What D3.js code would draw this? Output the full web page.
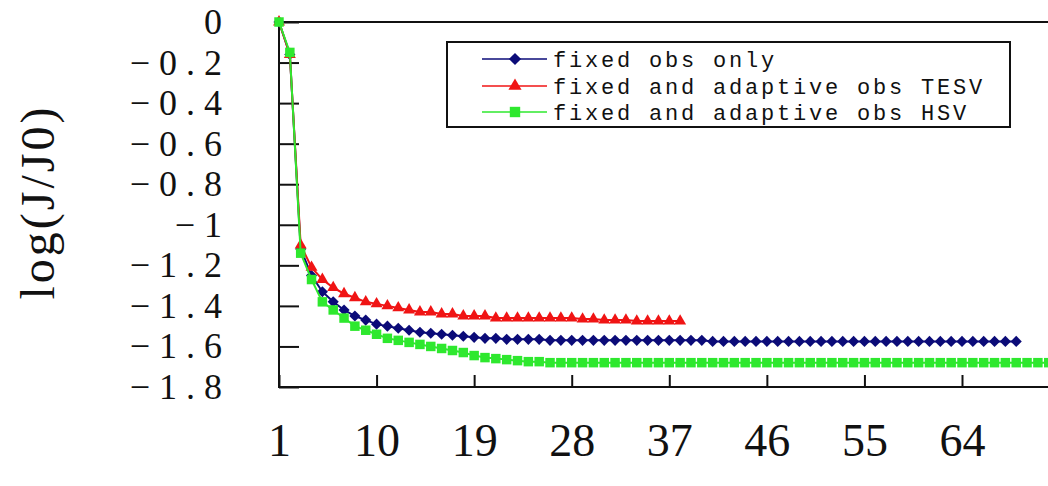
<!DOCTYPE html>
<html>
<head>
<meta charset="utf-8">
<script src="https://cdn.jsdelivr.net/npm/d3@7"></script>
<style>
  body { margin: 0; background: #fff; }
  svg { display: block; }
</style>
</head>
<body>
<div id="chart"></div>
<script>
// x tick labels and y tick values
var xTicks = [1, 10, 19, 28, 37, 46, 55, 64]
var yTicks = [0, -0.2, -0.4, -0.6, -0.8, -1, -1.2, -1.4, -1.6, -1.8]

var seriesNames = ["fixed obs only", "fixed and adaptive obs TESV", "fixed and adaptive obs HSV"]

// log(J/J0) per iteration
var fixedOnly = [0, -0.16, -1.12, -1.25, -1.33, -1.38, -1.42, -1.45, -1.47, -1.49,
  -1.50, -1.51, -1.52, -1.53, -1.535, -1.54, -1.545, -1.55, -1.555, -1.56,
  -1.56, -1.565, -1.565, -1.565, -1.565, -1.57, -1.57, -1.57, -1.57, -1.57,
  -1.57, -1.57, -1.57, -1.57, -1.57, -1.57, -1.57, -1.57, -1.57, -1.57,
  -1.575, -1.575, -1.575, -1.575, -1.575, -1.575, -1.575, -1.575, -1.575, -1.575,
  -1.575, -1.575, -1.575, -1.575, -1.575, -1.575, -1.575, -1.575, -1.575, -1.575,
  -1.575, -1.575, -1.575, -1.575, -1.575, -1.575, -1.575, -1.575, -1.575]

var adaptiveTESV = [0, -0.16, -1.10, -1.21, -1.27, -1.31, -1.34, -1.36, -1.38, -1.39,
  -1.40, -1.41, -1.42, -1.43, -1.43, -1.44, -1.44, -1.45, -1.45, -1.45,
  -1.46, -1.46, -1.46, -1.46, -1.46, -1.46, -1.46, -1.46, -1.465, -1.465,
  -1.47, -1.47, -1.47, -1.475, -1.475, -1.475, -1.475, -1.475]

var adaptiveHSV = [0, -0.15, -1.14, -1.27, -1.38, -1.42, -1.46, -1.50, -1.52, -1.54,
  -1.56, -1.57, -1.58, -1.59, -1.60, -1.61, -1.62, -1.63, -1.645, -1.655,
  -1.66, -1.665, -1.67, -1.675, -1.675, -1.68, -1.68, -1.68, -1.68, -1.68,
  -1.68, -1.68, -1.68, -1.68, -1.68, -1.68, -1.68, -1.68, -1.68, -1.68,
  -1.68, -1.68, -1.68, -1.68, -1.68, -1.68, -1.68, -1.68, -1.68, -1.68,
  -1.68, -1.68, -1.68, -1.68, -1.68, -1.68, -1.68, -1.68, -1.68, -1.68,
  -1.68, -1.68, -1.68, -1.68, -1.68, -1.68, -1.68, -1.68, -1.68, -1.68,
  -1.68, -1.68, -1.68, -1.68, -1.68]

var width = 1048
var height = 486

var svg = d3.select("#chart")
  .append("svg")
    .attr("width", width)
    .attr("height", height)

var x = d3.scaleLinear()
  .domain([1, 64])
  .range([279, 962])

var y = d3.scaleLinear()
  .domain([-1.8, 0])
  .range([387, 22])

var serif = "'Liberation Serif', 'Times New Roman', serif"

// y axis: ticks point inward, labels pushed far left
var yAxis = svg.append("g")
  .attr("transform", "translate(" + 279 + ",0)")
  .call(d3.axisLeft(y)
    .tickValues(yTicks)
    .tickSizeInner(-20)
    .tickSizeOuter(0)
    .tickPadding(48)
    .tickFormat(function(d){ return d === 0 ? "0" : d3.format("")(d).replace("-", "\u2212") }))
yAxis.select(".domain").remove()
yAxis.selectAll("line").attr("stroke", "#111").attr("stroke-width", 2)
yAxis.selectAll("text")
  .style("font-family", serif)
  .style("font-size", "36px")
  .style("letter-spacing", "9px")
  .attr("fill", "#111")

// x axis
var xAxis = svg.append("g")
  .attr("transform", "translate(0," + 387 + ")")
  .call(d3.axisBottom(x)
    .tickValues(xTicks)
    .tickSizeInner(-12)
    .tickSizeOuter(0)
    .tickPadding(36))
xAxis.select(".domain").remove()
xAxis.selectAll("line").attr("stroke", "#111").attr("stroke-width", 2)
xAxis.selectAll("text")
  .style("font-family", serif)
  .style("font-size", "46px")
  .attr("fill", "#111")

// frame (open on the right, runs off the page)
svg.append("path")
  .attr("d", "M" + width + "," + y(0) + "H" + x(1) + "V" + y(-1.8) + "H" + width)
  .attr("fill", "none")
  .attr("stroke", "#111")
  .attr("stroke-width", 2)

// y title
svg.append("text")
  .attr("transform", "translate(54," + 202 + ") rotate(-90)")
  .attr("text-anchor", "middle")
  .style("font-family", serif)
  .style("font-size", "48px")
  .style("letter-spacing", "3px")
  .attr("fill", "#111")
  .text("log(J/J0)")

var series = [
  { name: seriesNames[0], values: fixedOnly, color: "#0b0b78", symbol: d3.symbolSquare, size: 62, rotate: 45 },
  { name: seriesNames[1], values: adaptiveTESV, color: "#f01414", symbol: d3.symbolTriangle, size: 62, rotate: 0 },
  { name: seriesNames[2], values: adaptiveHSV, color: "#2ee82e", symbol: d3.symbolSquare, size: 90, rotate: 0 }
]

var line = d3.line()
  .x(function(d, i){ return x(i + 1) })
  .y(function(d){ return y(d) })

series.forEach(function(s){
  var g = svg.append("g")
  g.append("path")
    .datum(s.values)
    .attr("d", line)
    .attr("fill", "none")
    .attr("stroke", s.color)
    .attr("stroke-width", 2)
  g.selectAll("path.pt")
    .data(s.values)
    .enter()
    .append("path")
      .attr("class", "pt")
      .attr("d", d3.symbol().type(s.symbol).size(s.size))
      .attr("transform", function(d, i){ return "translate(" + x(i + 1) + "," + y(d) + ") rotate(" + s.rotate + ")" })
      .attr("fill", s.color)
})

// legend
var legend = svg.append("g")
legend.append("rect")
  .attr("x", 447)
  .attr("y", 42)
  .attr("width", 563)
  .attr("height", 85)
  .attr("fill", "#fff")
  .attr("stroke", "#111")
  .attr("stroke-width", 2)

var rowY = [59, 86, 112]
series.forEach(function(s, i){
  legend.append("line")
    .attr("x1", 482)
    .attr("x2", 547)
    .attr("y1", rowY[i])
    .attr("y2", rowY[i])
    .attr("stroke", s.color)
    .attr("stroke-width", 1.5)
  legend.append("path")
    .attr("d", d3.symbol().type(s.symbol).size(s.size * 1.2))
    .attr("transform", "translate(515," + rowY[i] + ") rotate(" + s.rotate + ")")
    .attr("fill", s.color)
  legend.append("text")
    .attr("x", 553)
    .attr("y", rowY[i])
    .attr("dy", "0.35em")
    .style("font-family", "'Liberation Mono', 'Courier New', monospace")
    .style("font-size", "22px")
    .style("letter-spacing", "2.8px")
    .attr("fill", "#111")
    .text(s.name)
})
</script>
</body>
</html>
